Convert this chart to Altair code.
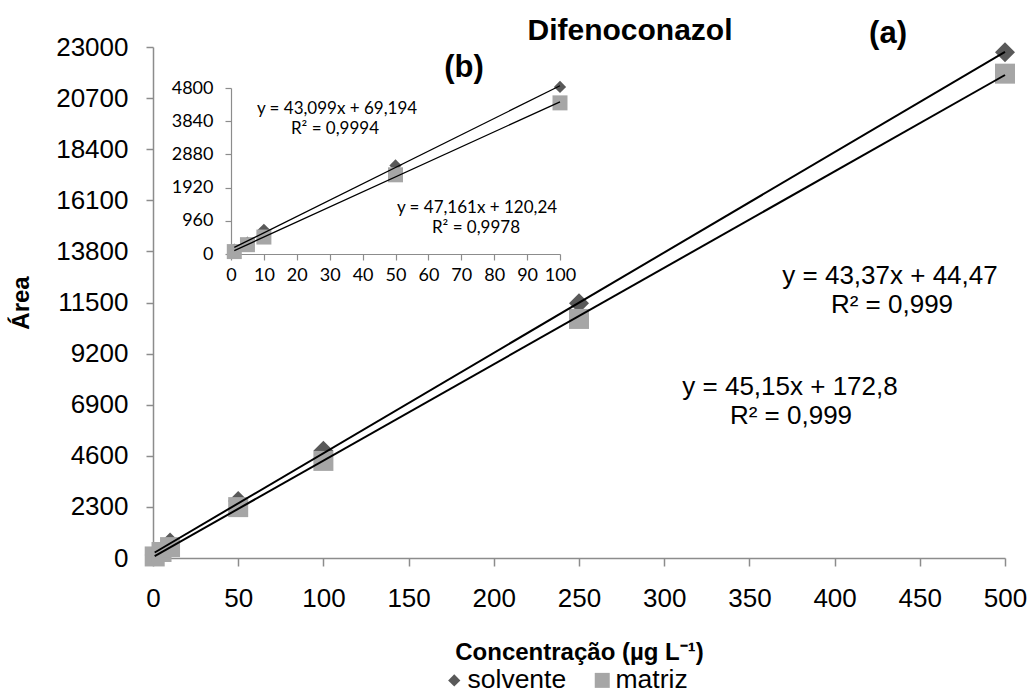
import altair as alt
import pandas as pd

# ---------------- data ----------------
conc = [1, 5, 10, 50, 100, 250, 500]
solvente = [130, 330, 700, 2560, 4830, 11470, 22760]
matriz = [70, 270, 490, 2290, 4370, 10760, 21800]
series = ["solvente", "matriz"]

x_ticks = [0, 50, 100, 150, 200, 250, 300, 350, 400, 450, 500]
y_ticks = [0, 2300, 4600, 6900, 9200, 11500, 13800, 16100, 18400, 20700, 23000]
inset_x_ticks = [0, 10, 20, 30, 40, 50, 60, 70, 80, 90, 100]
inset_y_ticks = [0, 960, 1920, 2880, 3840, 4800]
inset_max = 100

title_text = "Difenoconazol"
panel_labels = ["(a)", "(b)"]
main_eq = ["y = 43,37x + 44,47", "R² = 0,999", "y = 45,15x + 172,8", "R² = 0,999"]
inset_eq = ["y = 43,099x + 69,194", "R² = 0,9994", "y = 47,161x + 120,24", "R² = 0,9978"]

rows = []
for s, vals in zip(series, [solvente, matriz]):
    for c, v in zip(conc, vals):
        rows.append({"conc": c, "area": v, "serie": s})
df = pd.DataFrame(rows)
df_inset = df[df["conc"] <= inset_max]

FONT = "Liberation Sans"
IFONT = "Lato"
AXC = "#8c8c8c"

color_scale = alt.Scale(domain=series, range=["#595959", "#A6A6A6"])
shape_scale = alt.Scale(domain=series, range=["diamond", "square"])
legend = alt.Legend(orient="none", legendX=288, legendY=620, direction="horizontal",
                    title=None, labelFont=FONT, labelFontSize=26.5, labelColor="black",
                    symbolSize=256, symbolStrokeWidth=0, labelOffset=0,
                    columnPadding=22, padding=0)

# ---------------- main chart ----------------
xm = alt.X("conc:Q", scale=alt.Scale(domain=[0, 500], nice=False, zero=False),
           axis=alt.Axis(values=x_ticks, title="Concentração (µg L⁻¹)", grid=False,
                         labelFont=FONT, labelFontSize=26, labelColor="black",
                         labelPadding=19, tickSize=8, tickColor=AXC, tickWidth=1.5,
                         domainColor=AXC, domainWidth=1.5, labelFlush=False,
                         titleFont=FONT, titleFontSize=24, titleFontWeight="bold",
                         titleColor="black", titlePadding=29))
ym = alt.Y("area:Q", scale=alt.Scale(domain=[0, 23000], nice=False),
           axis=alt.Axis(values=y_ticks, format="d", title="Área", grid=False,
                         labelFont=FONT, labelFontSize=26, labelColor="black",
                         labelPadding=18, tickSize=7, tickColor=AXC, tickWidth=1.5,
                         domainColor=AXC, domainWidth=1.5, labelFlush=False,
                         titleFont=FONT, titleFontSize=24, titleFontWeight="bold",
                         titleColor="black", titlePadding=22))

col = alt.Color("serie:N", scale=color_scale, legend=legend)
shp = alt.Shape("serie:N", scale=shape_scale, legend=legend)

main_pts = alt.Chart(df).mark_point(filled=True, size=400, opacity=1).encode(
    x=xm, y=ym, color=col, shape=shp)
main_fit = alt.Chart(df).transform_regression(
    "conc", "area", groupby=["serie"]).mark_line(color="black", strokeWidth=2).encode(
    x=xm, y=ym, detail="serie:N")
main = alt.layer(main_pts, main_fit)

# ---------------- inset chart ----------------
xi = alt.X("conc:Q", scale=alt.Scale(domain=[0, 100], range=[78, 407], nice=False, zero=False),
           axis=alt.Axis(orient="bottom", offset=-304, values=inset_x_ticks, title=None,
                         grid=False, labelFont=IFONT, labelFontSize=18, labelColor="black",
                         labelPadding=6, tickSize=6, tickColor=AXC, tickWidth=1.2,
                         domainColor=AXC, domainWidth=1.2, labelFlush=False))
yi = alt.Y("area:Q", scale=alt.Scale(domain=[0, 4800], range=[207, 41], nice=False),
           axis=alt.Axis(orient="left", offset=-78, values=inset_y_ticks, format="d",
                         title=None, grid=False, labelFont=IFONT, labelFontSize=18,
                         labelColor="black", labelPadding=12, tickSize=6, tickColor=AXC,
                         tickWidth=1.2, domainColor=AXC, domainWidth=1.2, labelFlush=False))

inset_pts = alt.Chart(df_inset).mark_point(filled=True, opacity=1).encode(
    x=xi, y=yi, color=col, shape=shp,
    size=alt.Size("serie:N", scale=alt.Scale(domain=series, range=[150, 225]), legend=None))
inset_fit = alt.Chart(df_inset).transform_regression(
    "conc", "area", groupby=["serie"]).mark_line(color="black", strokeWidth=1.3).encode(
    x=xi, y=yi, detail="serie:N")
inset = alt.layer(inset_pts, inset_fit)


# ---------------- annotations ----------------
def label(txt, x, y, size, bold=False, font=FONT):
    return alt.Chart(pd.DataFrame({"label": [txt]})).mark_text(
        font=font, fontSize=size, fontWeight="bold" if bold else "normal",
        color="black", align="center", baseline="middle").encode(
        x=alt.value(x), y=alt.value(y), text="label:N")


texts = alt.layer(
    label(title_text, 477, -16, 30, bold=True),
    label(panel_labels[0], 735, -13, 31, bold=True),
    label(panel_labels[1], 311, 21, 31, bold=True),
    label(main_eq[0], 737, 229, 26),
    label(main_eq[1], 739, 258, 26),
    label(main_eq[2], 637, 340, 26),
    label(main_eq[3], 638, 369, 26),
    label(inset_eq[0], 184, 62, 17, font=IFONT),
    label(inset_eq[1], 182, 82, 17, font=IFONT),
    label(inset_eq[2], 324, 161, 17, font=IFONT),
    label(inset_eq[3], 323, 181, 17, font=IFONT),
)

chart = alt.layer(main, inset, texts).resolve_scale(
    x="independent", y="independent").resolve_axis(
    x="independent", y="independent").properties(
    width=852, height=511,
    autosize=alt.AutoSizeParams(type="none"),
    padding={"left": 153, "top": 47, "right": 26, "bottom": 135},
    background="white",
).configure_view(stroke=None)

chart.save("out.html", embed_options={"renderer": "svg", "actions": False})
